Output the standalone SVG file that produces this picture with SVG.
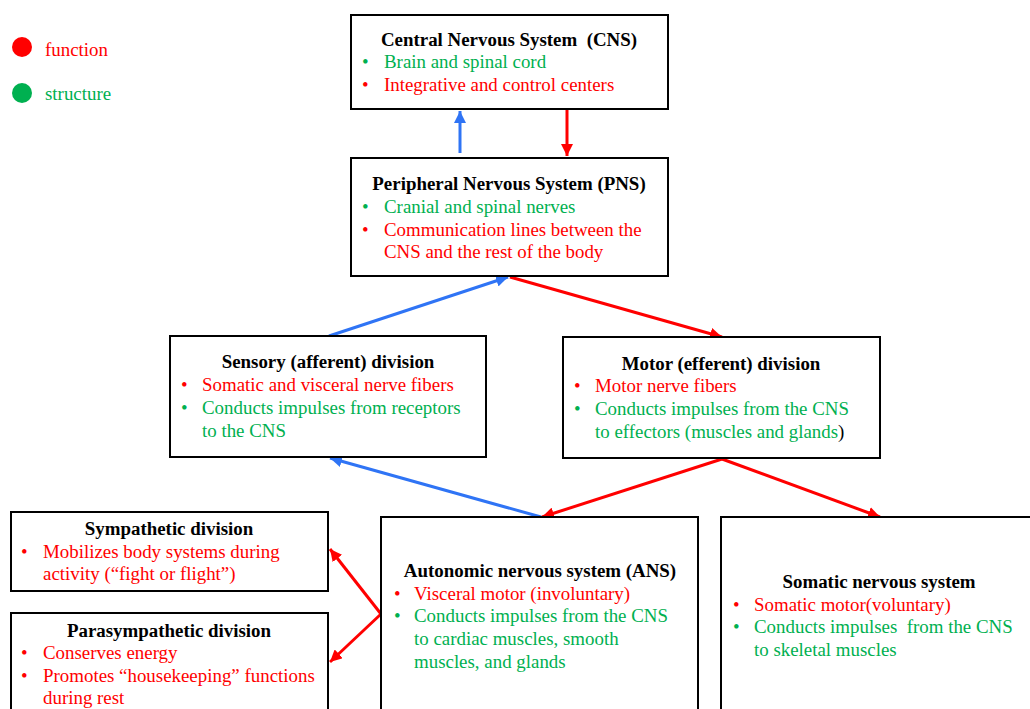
<svg xmlns="http://www.w3.org/2000/svg" width="1030" height="709" viewBox="0 0 1030 709">
<defs>
<style>
.box{fill:#fff;stroke:#000;stroke-width:2}
text{font-family:"Liberation Serif","Times New Roman",serif;font-size:18.9px}
.t{font-weight:bold;fill:#000;text-anchor:middle}
.r{fill:#ff0000}
.g{fill:#00b050}
.cr{stroke:#ff0000;stroke-width:3;fill:none}
.cb{stroke:#2f74f5;stroke-width:3;fill:none}
</style>
<marker id="ar" markerUnits="userSpaceOnUse" markerWidth="14" markerHeight="12" refX="12" refY="6" orient="auto"><path d="M0,0 L12,6 L0,12 z" fill="#ff0000"/></marker>
<marker id="ab" markerUnits="userSpaceOnUse" markerWidth="14" markerHeight="12" refX="12" refY="6" orient="auto"><path d="M0,0 L12,6 L0,12 z" fill="#2f74f5"/></marker>
</defs>
<rect width="1030" height="709" fill="#fff"/>
<g id="legend">
<circle cx="22" cy="47" r="10" fill="#ff0000"/>
<text x="45" y="56" class="r">function</text>
<circle cx="22" cy="93" r="10" fill="#00b050"/>
<text x="45" y="100" class="g">structure</text>
</g>
<g id="connectors">
<line x1="460" y1="153" x2="460" y2="111" class="cb" marker-end="url(#ab)"/>
<line x1="567" y1="110" x2="567" y2="156" class="cr" marker-end="url(#ar)"/>
<line x1="329" y1="336" x2="508" y2="277" class="cb" marker-end="url(#ab)"/>
<line x1="510" y1="277" x2="722" y2="337" class="cr" marker-end="url(#ar)"/>
<line x1="541" y1="517" x2="330" y2="458" class="cb" marker-end="url(#ab)"/>
<line x1="722" y1="459" x2="542" y2="517" class="cr" marker-end="url(#ar)"/>
<line x1="722" y1="459" x2="880" y2="517" class="cr" marker-end="url(#ar)"/>
<line x1="381" y1="614" x2="330" y2="549" class="cr" marker-end="url(#ar)"/>
<line x1="381" y1="614" x2="330" y2="662" class="cr" marker-end="url(#ar)"/>
</g>
<g id="cns">
<rect x="351" y="15" width="317" height="94" class="box"/>
<text x="509" y="46" class="t" xml:space="preserve">Central Nervous System  (CNS)</text>
<text x="362" y="68" class="g">•</text><text x="384" y="68" class="g">Brain and spinal cord</text>
<text x="362" y="91" class="r">•</text><text x="384" y="91" class="r">Integrative and control centers</text>
</g>
<g id="pns">
<rect x="351" y="158" width="317" height="118" class="box"/>
<text x="509" y="190" class="t">Peripheral Nervous System (PNS)</text>
<text x="362" y="213" class="g">•</text><text x="384" y="213" class="g">Cranial and spinal nerves</text>
<text x="362" y="236" class="r">•</text><text x="384" y="236" class="r">Communication lines between the</text>
<text x="384" y="258" class="r">CNS and the rest of the body</text>
</g>
<g id="sensory">
<rect x="170" y="336" width="316" height="121" class="box"/>
<text x="328" y="368" class="t">Sensory (afferent) division</text>
<text x="181" y="391" class="r">•</text><text x="202" y="391" class="r">Somatic and visceral nerve fibers</text>
<text x="181" y="414" class="g">•</text><text x="202" y="414" class="g">Conducts impulses from receptors</text>
<text x="202" y="437" class="g">to the CNS</text>
</g>
<g id="motor">
<rect x="563" y="337" width="317" height="121" class="box"/>
<text x="721" y="370" class="t">Motor (efferent) division</text>
<text x="574" y="392" class="r">•</text><text x="595" y="392" class="r">Motor nerve fibers</text>
<text x="574" y="415" class="g">•</text><text x="595" y="415" class="g">Conducts impulses from the CNS</text>
<text x="595" y="438" class="g">to effectors (muscles and glands<tspan fill="#000">)</tspan></text>
</g>
<g id="sympathetic">
<rect x="11" y="512" width="317" height="79" class="box"/>
<text x="169" y="535" class="t">Sympathetic division</text>
<text x="21" y="558" class="r">•</text><text x="43" y="558" class="r">Mobilizes body systems during</text>
<text x="43" y="580" class="r">activity (“fight or flight”)</text>
</g>
<g id="parasympathetic">
<rect x="11" y="613" width="317" height="110" class="box"/>
<text x="169" y="637" class="t">Parasympathetic division</text>
<text x="21" y="659" class="r">•</text><text x="43" y="659" class="r">Conserves energy</text>
<text x="21" y="682" class="r">•</text><text x="43" y="682" class="r">Promotes “housekeeping” functions</text>
<text x="43" y="704" class="r">during rest</text>
</g>
<g id="ans">
<rect x="381" y="517" width="317" height="210" class="box"/>
<text x="540" y="577" class="t">Autonomic nervous system (ANS)</text>
<text x="394" y="600" class="r">•</text><text x="414" y="600" class="r">Visceral motor (involuntary)</text>
<text x="394" y="622" class="g">•</text><text x="414" y="622" class="g">Conducts impulses from the CNS</text>
<text x="414" y="645" class="g">to cardiac muscles, smooth</text>
<text x="414" y="668" class="g">muscles, and glands</text>
</g>
<g id="somatic">
<rect x="721" y="517" width="330" height="210" class="box"/>
<text x="879" y="588" class="t">Somatic nervous system</text>
<text x="733" y="611" class="r">•</text><text x="754" y="611" class="r">Somatic motor(voluntary)</text>
<text x="733" y="633" class="g">•</text><text x="754" y="633" class="g" xml:space="preserve">Conducts impulses  from the CNS</text>
<text x="754" y="656" class="g">to skeletal muscles</text>
</g>
</svg>
